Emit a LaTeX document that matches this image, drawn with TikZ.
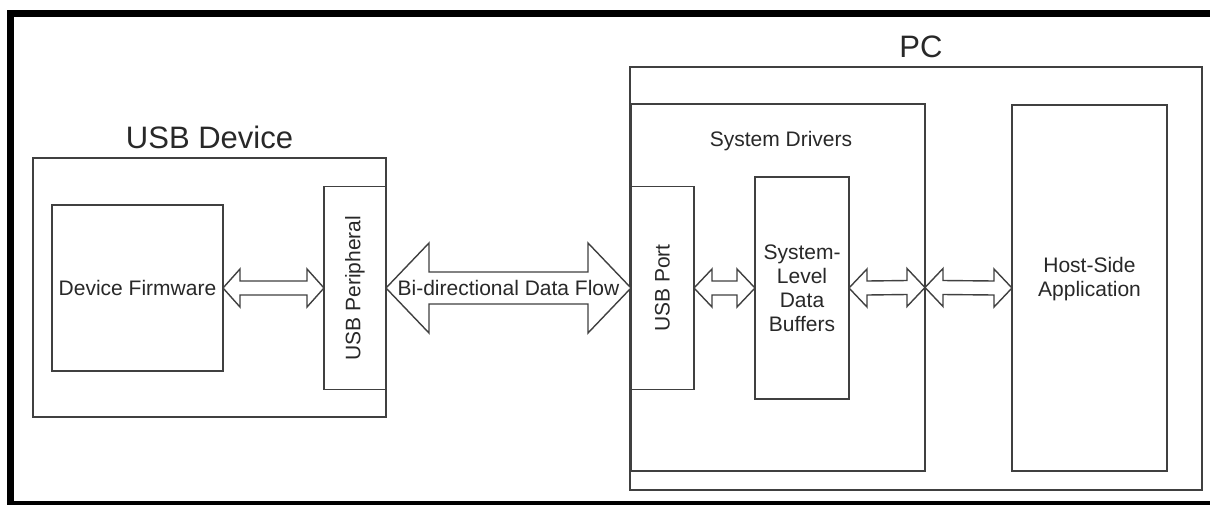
\documentclass[tikz,border=0pt]{standalone}
\usepackage{fontspec}
\setmainfont{Liberation Sans}
\usetikzlibrary{calc}
\definecolor{ln}{RGB}{64,64,64}
\definecolor{tx}{RGB}{40,40,40}
% double arrow between two named points (left #1, right #2): head length #3, head half-height #4, shaft half-height #5
\newcommand{\dblarr}[5]{%
  \draw[arr] (#1) -- ($(#1)+(#3,#4)$) -- ($(#1)+(#3,#5)$) -- ($(#2)+(-#3,#5)$) -- ($(#2)+(-#3,#4)$) -- (#2)
    -- ($(#2)+(-#3,-#4)$) -- ($(#2)+(-#3,-#5)$) -- ($(#1)+(#3,-#5)$) -- ($(#1)+(#3,-#4)$) -- cycle;}
\begin{document}
\begin{tikzpicture}[x=1pt,y=-1pt,
  box/.style={draw=ln, line width=1.6pt, fill=white, inner sep=0pt, outer sep=0pt, text=tx,
              align=center, font=\fontsize{21}{24}\selectfont},
  lbl/.style={text=tx, align=center, inner sep=0pt, font=\fontsize{21}{24}\selectfont},
  head/.style={text=tx, inner sep=0pt, font=\fontsize{31}{34}\selectfont},
  arr/.style={draw=ln, line width=1.4pt, fill=white, line join=miter}]
\useasboundingbox (0,0) rectangle (1210,504);
\fill[white] (0,0) rectangle (1210,504);
% outer frame
\draw[line width=7pt, black] (1210,13.5) -- (10.5,13.5) -- (10.5,504) -- (1210,504);

% USB device side
\node[box, minimum width=353pt, minimum height=259pt] (usbdev) at (209.5,287.5) {};
\node[box, minimum width=171pt, minimum height=166pt] (firmware) at (137.5,288) {Device Firmware};
\node[box, minimum width=62pt, minimum height=203pt] (periph) at (355,288) {};
\node[lbl, rotate=90] (periphlbl) at (periph.center) {USB Peripheral};
\node[head, anchor=base] (usbdevlbl) at ($(usbdev.north)+(0,-10)$) {USB Device};

% PC side
\node[box, minimum width=572pt, minimum height=423pt] (pc) at (916,278.5) {};
\node[head, anchor=base] (pclbl) at ($(pc.north)+(5,-10)$) {PC};
\node[box, minimum width=294pt, minimum height=367pt] (drivers) at (778,287.5) {};
\node[lbl] (driverslbl) at ($(drivers.north)+(3,37)$) {System Drivers};
\node[box, minimum width=63pt, minimum height=203pt] (usbport) at (662.5,288) {};
\node[lbl, rotate=90] (usbportlbl) at (usbport.center) {USB Port};
\node[box, minimum width=94pt, minimum height=222pt] (buffers) at (802,288) {System-\\Level\\Data\\Buffers};
\node[box, minimum width=155pt, minimum height=366pt] (host) at (1089.5,288) {};
\node[lbl] (hostlbl) at ($(host.center)+(0,-9)$) {Host-Side\\Application};

% connectors
\dblarr{firmware.east}{periph.west}{17}{19}{7}
\dblarr{periph.east}{usbport.west}{43}{45}{16}
\dblarr{usbport.east}{buffers.west}{18}{19}{7}
\dblarr{buffers.east}{drivers.east}{18}{19}{7}
\dblarr{drivers.east}{host.west}{18}{19}{7}
\node[lbl] (flowlbl) at ($(periph.east)!0.5!(usbport.west)$) {Bi-directional Data Flow};
\end{tikzpicture}
\end{document}
